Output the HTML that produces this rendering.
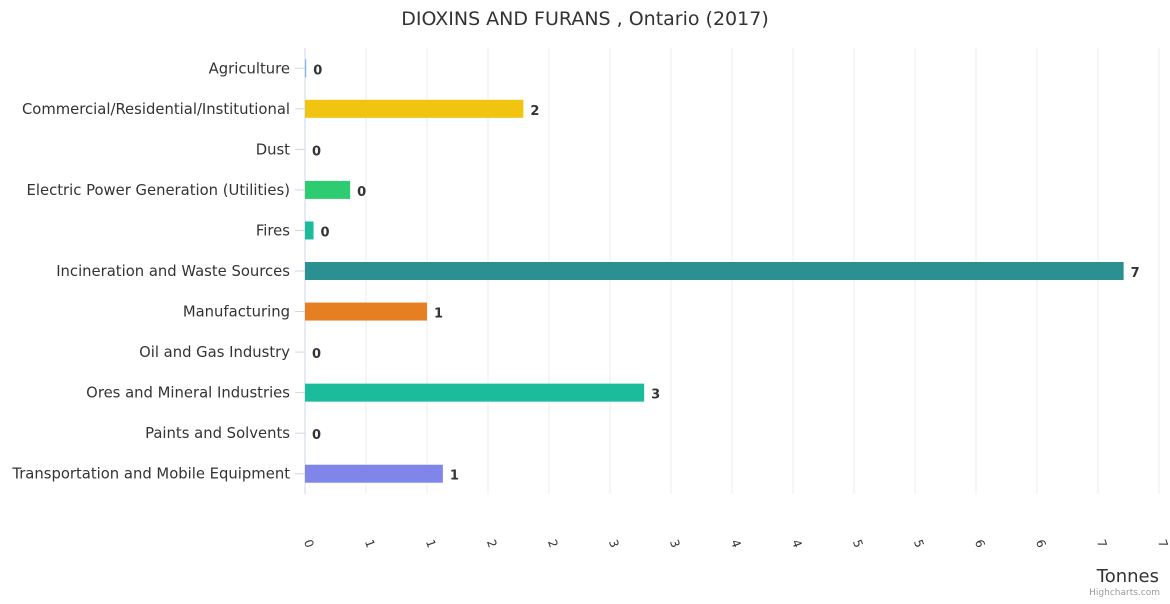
<!DOCTYPE html>
<html><head><meta charset="utf-8"><style>
body{margin:0;background:#fff;font-family:"DejaVu Sans","Liberation Sans",sans-serif}
</style></head><body>
<svg width="1170" height="600" id="c" font-family="DejaVu Sans, Liberation Sans, sans-serif">
<text x="585" y="25" text-anchor="middle" font-size="19" fill="#333">DIOXINS AND FURANS , Ontario (2017)</text>
<g id="grid"></g><g id="bars"></g><g id="ylab"></g><g id="xlab"></g>
<text x="1159" y="582" text-anchor="end" font-size="18" fill="#333">Tonnes</text>
<text x="1160" y="595" text-anchor="end" font-size="9" fill="#999">Highcharts.com</text>
</svg>
<script>
const categories=["Agriculture","Commercial/Residential/Institutional","Dust","Electric Power Generation (Utilities)","Fires","Incineration and Waste Sources","Manufacturing","Oil and Gas Industry","Ores and Mineral Industries","Paints and Solvents","Transportation and Mobile Equipment"];
const values=[0.01,1.79,0,0.37,0.07,6.71,1.0,0,2.78,0,1.13];
const colors=["#7cb5ec","#f1c40f","#2c3e50","#2ecc71","#1abc9c","#2a9090","#e67e22","#7f8c8d","#1abc9c","#34495e","#8085e9"];
const ticks=[0,0.5,1,1.5,2,2.5,3,3.5,4,4.5,5,5.5,6,6.5,7];
const NS="http://www.w3.org/2000/svg";
const x0=305,x1=1159,yTop=48,yBot=494,xmax=7;
const xs=v=>x0+v/xmax*(x1-x0);
const band=(yBot-yTop)/categories.length;
function mk(t,a,p){const e=document.createElementNS(NS,t);for(const k in a)e.setAttribute(k,a[k]);document.getElementById(p).appendChild(e);return e;}
ticks.forEach(t=>{
const l=mk('line',{x1:xs(t),x2:xs(t),y1:yTop,y2:yBot,stroke:t===0?'#ccd6eb':'#ececec'},'grid');


const tx=mk('text',{x:xs(t),y:545,'font-size':12,fill:'#333','text-anchor':'middle',transform:`rotate(70 ${xs(t)} 545)`},'xlab');
tx.textContent=Math.round(t);


});
categories.forEach((c,i)=>{
const cy=yTop+band*(i+0.5);
const tk=mk('line',{x1:295,x2:305,y1:cy,y2:cy,stroke:'#ccd6eb'},'grid');


const t=mk('text',{x:290,y:cy+5,'font-size':14.8,fill:'#333','text-anchor':'end'},'ylab');
t.textContent=c;


const w=Math.max(xs(values[i])-x0,values[i]>0?1:0);
const r=mk('rect',{x:x0,y:cy-9,width:w,height:18,fill:colors[i]},'bars');


const v=mk('text',{x:x0+w+7,y:cy+6,'font-size':13,'font-weight':'bold',fill:'#333'},'bars');
v.textContent=Math.round(values[i]);


});
mk('line',{x1:x0,x2:x0,y1:yTop,y2:yBot,stroke:'#ccd6eb'},'grid');
</script>
</body></html>
